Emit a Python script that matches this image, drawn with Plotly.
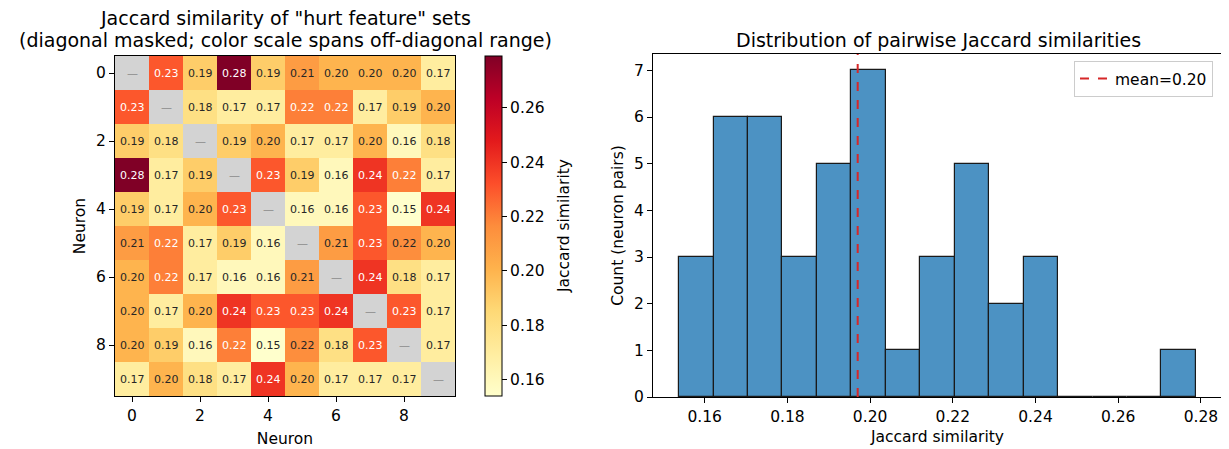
import plotly.graph_objects as go

# ---------------- data ----------------
neurons = list(range(10))
# Jaccard similarity matrix (diagonal masked -> None)
jaccard = [
    [None, 0.23, 0.19, 0.279, 0.19, 0.21, 0.20, 0.20, 0.20, 0.17],
    [0.23, None, 0.18, 0.17, 0.17, 0.22, 0.22, 0.17, 0.19, 0.20],
    [0.19, 0.18, None, 0.19, 0.20, 0.17, 0.17, 0.20, 0.16, 0.18],
    [0.279, 0.17, 0.19, None, 0.23, 0.19, 0.16, 0.24, 0.22, 0.17],
    [0.19, 0.17, 0.20, 0.23, None, 0.16, 0.16, 0.23, 0.154, 0.24],
    [0.21, 0.22, 0.17, 0.19, 0.16, None, 0.21, 0.23, 0.216, 0.20],
    [0.20, 0.22, 0.17, 0.16, 0.16, 0.21, None, 0.24, 0.18, 0.17],
    [0.20, 0.17, 0.20, 0.24, 0.23, 0.23, 0.24, None, 0.23, 0.17],
    [0.20, 0.19, 0.16, 0.22, 0.154, 0.216, 0.18, 0.23, None, 0.17],
    [0.17, 0.20, 0.18, 0.17, 0.24, 0.20, 0.17, 0.17, 0.17, None],
]
colorbar_ticks = [0.16, 0.18, 0.20, 0.22, 0.24, 0.26]

# histogram of pairwise similarities (15 bins between min and max)
hist_lo = 0.1538
hist_hi = 0.2788
hist_counts = [3, 6, 6, 3, 5, 7, 1, 3, 5, 2, 3, 0, 0, 0, 1]
mean_value = 0.197
hist_xticks = [0.16, 0.18, 0.20, 0.22, 0.24, 0.26, 0.28]
hist_yticks = [0, 1, 2, 3, 4, 5, 6, 7]

# ---------------- figure ----------------
# page body has an 8px margin, so the figure is placed at (8, 8)
OFF = 8
W, H = 1229 - OFF, 449 - OFF
FONT = "DejaVu Sans"
def px_x(p): return (p - OFF) / W
def px_y(p): return 1 - (p - OFF) / H

offdiag = [v for row in jaccard for v in row if v is not None]
zmin, zmax = min(offdiag), max(offdiag)
zmid = (zmin + zmax) / 2

TICK = 15.5
fig = go.Figure()

fig.add_trace(go.Heatmap(
    z=jaccard, x=neurons, y=neurons, colorscale="YlOrRd", zmin=zmin, zmax=zmax,
    xaxis="x", yaxis="y", hoverongaps=False,
    colorbar=dict(
        x=px_x(485), xanchor="left", y=px_y(226), yanchor="middle",
        len=340 / H, lenmode="fraction", thickness=17, xpad=0, ypad=0,
        outlinecolor="black", outlinewidth=1,
        tickvals=colorbar_ticks, ticktext=[f"{t:.2f}" for t in colorbar_ticks],
        ticks="outside", ticklen=5, tickcolor="black",
        tickfont=dict(family=FONT, size=TICK, color="black"),
    ),
))

# masked diagonal
diag = [[1 if i == j else None for j in neurons] for i in neurons]
fig.add_trace(go.Heatmap(
    z=diag, x=neurons, y=neurons, colorscale=[[0, "#d3d3d3"], [1, "#d3d3d3"]],
    showscale=False, xaxis="x", yaxis="y", hoverinfo="skip",
))

annotations = []
for i in neurons:
    for j in neurons:
        v = jaccard[i][j]
        if v is None:
            annotations.append(dict(x=j, y=i, xref="x", yref="y", text="—", showarrow=False,
                                    font=dict(family=FONT, size=11, color="#8a8a8a")))
        else:
            annotations.append(dict(x=j, y=i, xref="x", yref="y", text=f"{v:.2f}", showarrow=False,
                                    font=dict(family=FONT, size=11,
                                              color="white" if v > zmid else "#262626")))

# histogram bars
nb = len(hist_counts)
bw = (hist_hi - hist_lo) / nb
centers = [hist_lo + bw * (k + 0.5) for k in range(nb)]
fig.add_trace(go.Bar(
    x=centers, y=hist_counts, width=[bw] * nb, xaxis="x2", yaxis="y2",
    marker=dict(color="rgba(31,119,180,0.8)", line=dict(color="#1a1a1a", width=1.2)),
    showlegend=False,
))
fig.add_trace(go.Scatter(
    x=[mean_value, mean_value], y=[0, 7.35], mode="lines", xaxis="x2", yaxis="y2",
    line=dict(color="#d62728", width=2, dash="dash"),
    name=f"mean={mean_value:.2f}", showlegend=True,
))

tickfont = dict(family=FONT, size=TICK, color="black")
axfont = dict(family=FONT, size=TICK, color="black")
common = dict(showline=True, linecolor="black", linewidth=1, mirror=True,
              ticks="outside", ticklen=5, tickcolor="black", showgrid=False,
              zeroline=False, tickfont=tickfont, automargin=False)

TITLE = 19
annotations += [
    dict(x=px_x(285), y=px_y(18), xref="paper", yref="paper", showarrow=False,
         text='Jaccard similarity of "hurt feature" sets', xanchor="center", yanchor="middle",
         font=dict(family=FONT, size=TITLE, color="black")),
    dict(x=px_x(285), y=px_y(40), xref="paper", yref="paper", showarrow=False,
         text="(diagonal masked; color scale spans off-diagonal range)", xanchor="center", yanchor="middle",
         font=dict(family=FONT, size=TITLE, color="black")),
    dict(x=px_x(938), y=px_y(40), xref="paper", yref="paper", showarrow=False,
         text="Distribution of pairwise Jaccard similarities", xanchor="center", yanchor="middle",
         font=dict(family=FONT, size=TITLE, color="black")),
    dict(x=px_x(564), y=px_y(226), xref="paper", yref="paper", showarrow=False,
         text="Jaccard similarity", textangle=-90, xanchor="center", yanchor="middle",
         font=dict(family=FONT, size=TICK, color="black")),
]

fig.update_layout(
    width=W, height=H, margin=dict(l=0, r=0, t=0, b=0, pad=0),
    paper_bgcolor="white", plot_bgcolor="white",
    font=dict(family=FONT, color="black"),
    xaxis=dict(domain=[px_x(115), px_x(455)], range=[-0.5, 9.5],
               tickvals=[0, 2, 4, 6, 8], title=dict(text="Neuron", font=axfont, standoff=9),
               anchor="y", **common),
    yaxis=dict(domain=[px_y(396), px_y(56)], range=[9.5, -0.5],
               tickvals=[0, 2, 4, 6, 8], title=dict(text="Neuron", font=axfont, standoff=6),
               anchor="x", **common),
    xaxis2=dict(domain=[px_x(653), px_x(1222)], range=[0.1475, 0.2851],
                tickvals=hist_xticks, ticktext=[f"{t:.2f}" for t in hist_xticks],
                title=dict(text="Jaccard similarity", font=axfont, standoff=6),
                anchor="y2", **common),
    yaxis2=dict(domain=[px_y(397), px_y(54)], range=[0, 7.35],
                tickvals=hist_yticks, title=dict(text="Count (neuron pairs)", font=axfont, standoff=6),
                anchor="x2", **common),
    legend=dict(x=px_x(1213), xanchor="right", y=px_y(61), yanchor="top",
                bgcolor="white", bordercolor="#cccccc", borderwidth=1,
                font=dict(family=FONT, size=TICK, color="black")),
    annotations=annotations,
    bargap=0,
)

fig.write_html("out.html")
